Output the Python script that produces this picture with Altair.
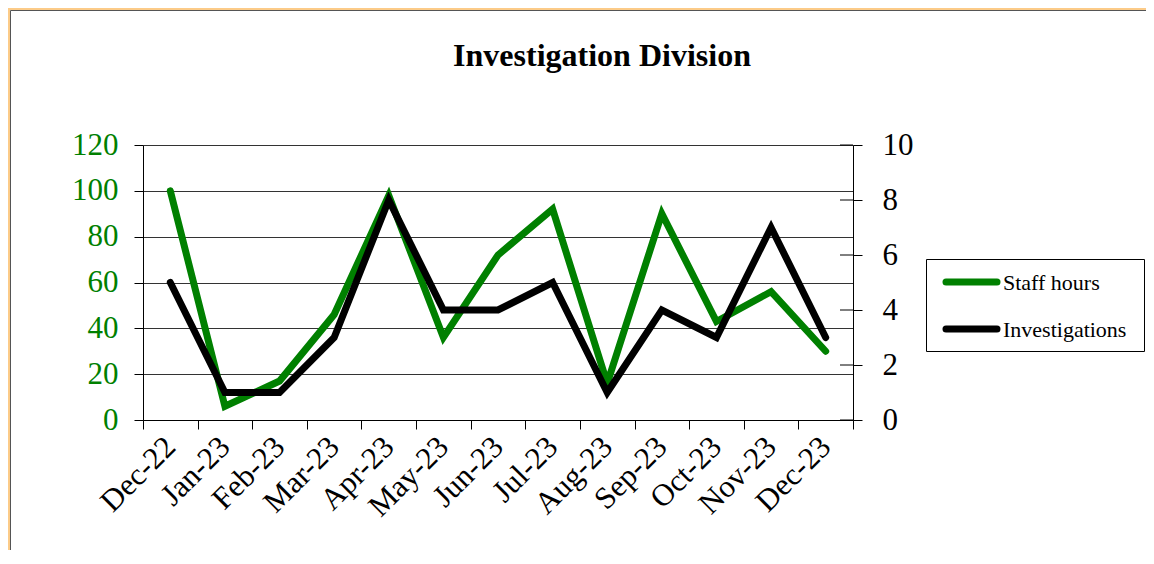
import altair as alt
import pandas as pd

months = ["Dec-22", "Jan-23", "Feb-23", "Mar-23", "Apr-23", "May-23", "Jun-23",
          "Jul-23", "Aug-23", "Sep-23", "Oct-23", "Nov-23", "Dec-23"]
staff_hours = [100, 6, 17, 46, 98, 36, 72, 92, 16, 90, 43, 56, 30]
investigations = [5, 1, 1, 3, 8, 4, 4, 5, 1, 4, 3, 7, 3]
series_names = ["Staff hours", "Investigations"]
left_ticks = [0, 20, 40, 60, 80, 100, 120]
right_ticks = [0, 2, 4, 6, 8, 10]
title_text = "Investigation Division"

FONT = "Liberation Serif"
GREEN = "#008000"
W, H = 710, 275

df = pd.DataFrame({
    "month": months * 2,
    "series": [series_names[0]] * len(months) + [series_names[1]] * len(months),
    "value": staff_hours + investigations,
})

x_enc = alt.X(
    "month:N", sort=months, bandPosition=0.5,
    scale=alt.Scale(type="band", paddingInner=0, paddingOuter=0),
    axis=alt.Axis(title=None, tickBand="extent", labelAngle=315, labelAlign="right",
                  labelBaseline="middle", labelFont=FONT, labelFontSize=31,
                  labelColor="black", labelPadding=13, tickSize=9, tickColor="black",
                  domainColor="black", grid=False, labelOverlap=False),
)

color_scale = alt.Scale(domain=series_names, range=[GREEN, "black"])
color = alt.Color("series:N", scale=color_scale, legend=None)

base = alt.Chart(df)

green = base.transform_filter(alt.datum.series == series_names[0]).mark_line(
    strokeWidth=7, strokeCap="round", strokeJoin="miter"
).encode(
    x=x_enc,
    y=alt.Y("value:Q", scale=alt.Scale(domain=[0, 120]),
            axis=alt.Axis(title=None, orient="left", values=left_ticks, labelFont=FONT,
                          labelFontSize=31, labelColor=GREEN, labelPadding=16, tickSize=9,
                          tickColor="black", domainColor="black", grid=True,
                          gridColor="#333333", gridWidth=1)),
    color=color,
)

black = base.transform_filter(alt.datum.series == series_names[1]).mark_line(
    strokeWidth=7, strokeCap="round", strokeJoin="miter"
).encode(
    x=x_enc,
    y=alt.Y("value:Q", scale=alt.Scale(domain=[0, 10]),
            axis=alt.Axis(title=None, orient="right", values=right_ticks, labelFont=FONT,
                          labelFontSize=31, labelColor="black", labelPadding=20, tickSize=9,
                          tickColor="black", domainColor="black", grid=False)),
    color=color,
)

inner_ticks = alt.Chart(pd.DataFrame({"v": right_ticks})).mark_rule(
    color="black", strokeWidth=1
).encode(
    y=alt.Y("v:Q", scale=alt.Scale(domain=[0, 10]), axis=None),
    x=alt.value(W - 13), x2=alt.value(W),
)

one = pd.DataFrame({"t": [title_text]})
frame = alt.Chart(one).mark_rect(fillOpacity=0, stroke="#FCCB88", strokeWidth=4).encode(
    x=alt.value(-135), y=alt.value(-137), x2=alt.value(1200), y2=alt.value(600)
)
frame_line = alt.Chart(one).mark_rect(fillOpacity=0, stroke="#555555", strokeWidth=1).encode(
    x=alt.value(-132.5), y=alt.value(-134.5), x2=alt.value(1200), y2=alt.value(600)
)
title = alt.Chart(one).mark_text(
    font=FONT, fontSize=32, fontWeight="bold", align="center", baseline="alphabetic",
    color="black"
).encode(text="t:N", x=alt.value(459), y=alt.value(-79))

# manual legend
leg_df = pd.DataFrame({"series": series_names})
leg_y = alt.Y("series:N", scale=alt.Scale(domain=series_names, range=[113.5, 207.5]),
              axis=None)
leg_box = alt.Chart(one).mark_rect(fill="white", stroke="black", strokeWidth=1).encode(
    x=alt.value(783.5), x2=alt.value(1001.5), y=alt.value(114.5), y2=alt.value(206.5)
)
leg_lines = alt.Chart(leg_df).mark_rule(strokeWidth=7, strokeCap="round").encode(
    y=leg_y, x=alt.value(803), x2=alt.value(854), color=color
)
leg_text = alt.Chart(leg_df).mark_text(
    font=FONT, fontSize=22, align="left", baseline="middle", color="black", dy=1
).encode(y=leg_y, x=alt.value(860), text="series:N")

chart = alt.layer(frame, frame_line, title, green, black, inner_ticks,
                  leg_box, leg_lines, leg_text).resolve_scale(
    y="independent"
).properties(
    width=W, height=H,
    autosize=alt.AutoSizeParams(type="none"),
    padding={"left": 135, "top": 137, "right": 293, "bottom": 130},
    background="white",
).configure_view(stroke=None)

chart.save("out.html", embed_options={"renderer": "svg", "actions": False})
